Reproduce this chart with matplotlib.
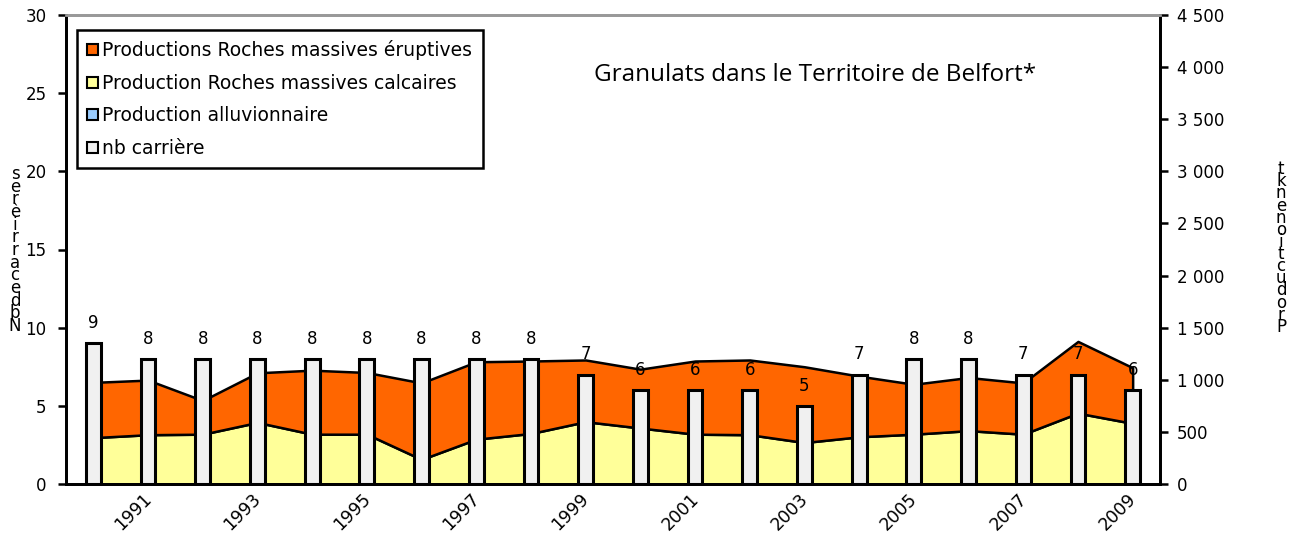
import numpy as np
import matplotlib
matplotlib.use("Agg")
import matplotlib.pyplot as plt
from matplotlib.patches import Patch
from matplotlib.ticker import FuncFormatter

years = list(range(1990, 2010))
nb_carrieres = [9, 8, 8, 8, 8, 8, 8, 8, 8, 7, 6, 6, 6, 5, 7, 8, 8, 7, 7, 6]
# production en kt
calcaires = [445, 473, 478, 591, 478, 478, 236, 430, 485, 598,
             537, 478, 473, 398, 453, 478, 512, 478, 680, 582]
eruptives = [530, 524, 323, 476, 614, 592, 734, 743, 695, 592,
             565, 702, 717, 727, 582, 479, 510, 492, 688, 534]
alluvionnaire = [0] * 20

c_erupt = "#FF6600"
c_calc = "#FFFF99"
c_allu = "#99CCFF"
c_bar = "#F0F0F0"

plt.rcParams["font.family"] = ["DejaVu Sans"]
plt.rcParams["font.size"] = 12

fig = plt.figure(figsize=(12.96, 5.53), dpi=100)
ax = fig.add_axes([66 / 1296, 1 - 484 / 553, (1160 - 66) / 1296, (484 - 15) / 553])
x = np.arange(len(years))

# zones empilees (axe de droite, kt)
ax.stackplot(x, alluvionnaire, calcaires, eruptives,
             colors=[c_allu, c_calc, c_erupt], edgecolor="black", linewidth=1.8)
ax.set_ylim(0, 4500)
ax.set_xlim(-0.5, len(years) - 0.5)

# barres nb carrieres (axe de gauche)
ax2 = ax.twinx()
ax.yaxis.tick_right()
ax.set_yticks(np.arange(0, 4501, 500))
ax.yaxis.set_major_formatter(FuncFormatter(lambda v, p: f"{int(v):,}".replace(",", " ")))
ax.tick_params(axis="y", direction="out", length=6, width=1.8, pad=6)

ax2.bar(x, nb_carrieres, width=0.27, color=c_bar, edgecolor="black", linewidth=2.2)
for xi, n in zip(x, nb_carrieres):
    ax2.annotate(str(n), (xi, n), xytext=(0, 8), textcoords="offset points",
                 ha="center", va="bottom", fontsize=12)
ax2.set_ylim(0, 30)
ax2.yaxis.tick_left()
ax2.set_yticks(range(0, 31, 5))
ax2.tick_params(axis="y", direction="out", length=6, width=1.8, pad=8)

# axe x : ticks aux limites, etiquettes une annee sur deux
ax2.set_xticks(np.arange(-0.5, len(years), 1))
ax2.set_xticklabels([])
ax2.tick_params(axis="x", direction="out", length=5, width=1.5)
ax.set_xticks([])
for xi, yr in zip(x, years):
    if yr % 2 == 1:
        ax2.annotate(str(yr), (xi, 0), xytext=(-4, -4), textcoords="offset points",
                     rotation=45, rotation_mode="anchor", ha="right", va="top",
                     fontsize=12.5)

for a in (ax, ax2):
    a.spines["top"].set_color("#999999")
    a.spines["top"].set_linewidth(2)
    a.spines["left"].set_linewidth(2)
    a.spines["right"].set_linewidth(2)
    a.spines["bottom"].set_linewidth(2)

# titres d'axes empiles verticalement
left_label = "Nb de carrières".replace(" ", "")
right_label = "Production en kt".replace(" ", "")
fig.text(15 / 1296, 1 - 250 / 553, "\n".join(reversed(left_label)), ha="center", va="center",
         fontsize=12, linespacing=0.62)
fig.text(1281 / 1296, 1 - 248 / 553, "\n".join(reversed(right_label)), ha="center", va="center",
         fontsize=12, linespacing=0.58)

ax2.text(0.685, 0.872, "Granulats dans le Territoire de Belfort*", transform=ax2.transAxes,
         ha="center", va="center", fontsize=17.5, family=["Open Sans", "DejaVu Sans"])

handles = [Patch(facecolor=c_erupt, edgecolor="black", linewidth=1.5),
           Patch(facecolor=c_calc, edgecolor="black", linewidth=1.5),
           Patch(facecolor=c_allu, edgecolor="black", linewidth=1.5),
           Patch(facecolor=c_bar, edgecolor="black", linewidth=1.5)]
labels = ["Productions Roches massives éruptives",
          "Production Roches massives calcaires",
          "Production alluvionnaire",
          "nb carrière"]
leg = ax2.legend(handles, labels, loc="upper left", bbox_to_anchor=(0.01, 0.968),
                 fancybox=False, framealpha=1, edgecolor="black", fontsize=13.5,
                 handlelength=0.55, handleheight=0.55, handletextpad=0.25,
                 labelspacing=0.72, borderpad=0.55, borderaxespad=0)
leg.get_frame().set_linewidth(1.8)

fig.savefig("out.png", dpi=100)
